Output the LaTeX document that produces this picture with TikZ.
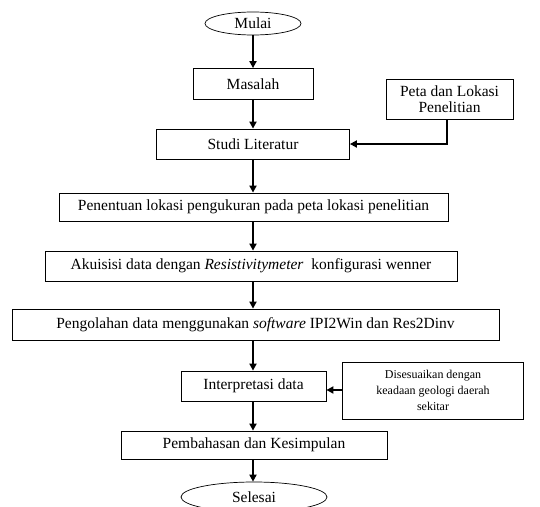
\documentclass[tikz,border=0pt]{standalone}
\usepackage{fontspec}
\setmainfont{Liberation Serif}
\usetikzlibrary{shapes.geometric,arrows.meta}
\begin{document}
\begin{tikzpicture}[x=1pt,y=-1pt,
  box/.style={draw,line width=0.8pt,minimum height=30pt,inner sep=0pt,font=\fontsize{15.5}{17}\selectfont,anchor=center},
  term/.style={draw,ellipse,line width=0.7pt,inner sep=0pt,font=\fontsize{15.5}{17}\selectfont},
  flow/.style={line width=2pt,-{Triangle[length=7pt,width=7pt]}}]
\useasboundingbox (0,0) rectangle (540,506);
\node[term,minimum width=96pt,minimum height=23pt] (mulai) at (253,23.5) {Mulai};
\node[box,minimum width=120pt,minimum height=31pt] (masalah) at (253,84) {Masalah};
\node[box,minimum width=127pt,minimum height=40pt,align=center,font=\fontsize{15.5}{16.5}\selectfont] (peta) at (449.5,99) {Peta dan Lokasi\\Penelitian};
\node[box,minimum width=193pt] (studi) at (253,144) {Studi Literatur};
\node[box,minimum width=389pt,minimum height=28pt] (penentuan) at (253.5,207) {Penentuan lokasi pengukuran pada peta lokasi penelitian};
\node[box,minimum width=412pt] (akuisisi) at (251,266) {Akuisisi data dengan \textit{Resistivitymeter}\ \ konfigurasi wenner};
\node[box,minimum width=487pt,minimum height=31pt] (olah) at (255.5,324.5) {Pengolahan data menggunakan \textit{software} IPI2Win dan Res2Dinv};
\node[box,minimum width=145pt] (interp) at (253.5,386) {Interpretasi data};
\node[box,minimum width=181pt,minimum height=57pt,align=center,font=\fontsize{12}{16}\selectfont] (sesuai) at (433,390.5) {Disesuaikan dengan\\keadaan geologi daerah\\sekitar};
\node[box,minimum width=266pt,minimum height=28pt] (bahas) at (254,445) {Pembahasan dan Kesimpulan};
\node[term,minimum width=146pt,minimum height=30pt] (selesai) at (254,497) {Selesai};
\draw[flow] (mulai.south) -- (masalah.north);
\draw[flow] (masalah.south) -- (studi.north);
\draw[flow] (peta.south -| 447,0) |- (studi.east);
\draw[flow] (studi.south) -- (penentuan.north -| studi.south);
\draw[flow] (penentuan.south -| 253,0) -- (akuisisi.north -| 253,0);
\draw[flow] (akuisisi.south -| 253,0) -- (olah.north -| 253,0);
\draw[flow] (olah.south -| 253,0) -- (interp.north -| 253,0);
\draw[flow] (sesuai.west |- 0,390) -- (interp.east |- 0,390);
\draw[flow] (interp.south -| 253,0) -- (bahas.north -| 253,0);
\draw[flow] (bahas.south -| 253,0) -- (selesai.north -| 253,0);
\end{tikzpicture}
\end{document}
